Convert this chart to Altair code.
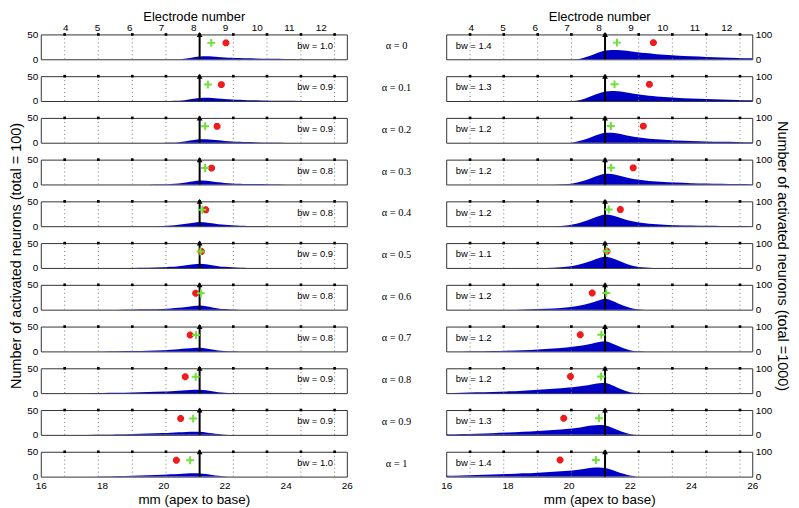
import altair as alt
import pandas as pd

# ---------------- data ----------------
MM_GRID = [16.0, 16.5, 17.0, 17.5, 18.0, 18.5, 19.0, 19.5, 20.0, 20.25, 20.5, 20.75,
           21.0, 21.2, 21.4, 21.6, 21.8, 22.0, 22.25, 22.5, 22.75, 23.0, 23.5, 24.0,
           24.5, 25.0, 25.5, 26.0]

ALPHA = ["0", "0.1", "0.2", "0.3", "0.4", "0.5", "0.6", "0.7", "0.8", "0.9", "1"]

LEFT_BW = ["1.0", "0.9", "0.9", "0.8", "0.8", "0.9", "0.8", "0.8", "0.9", "0.9", "1.0"]
RIGHT_BW = ["1.4", "1.3", "1.2", "1.2", "1.2", "1.1", "1.2", "1.2", "1.2", "1.3", "1.4"]

# activated neurons (total = 100), left column
LEFT_DENS = [
    [0, 0, 0, 0, 0, 0, 0, 0, 0, 0, 0, 1.5, 4, 5.5, 6, 5.5, 4.5, 3.8, 3, 2.4, 1.9, 1.5, 0.9, 0.5, 0.2, 0, 0, 0],
    [0, 0, 0, 0, 0, 0, 0, 0, 0, 0, 0.3, 2, 4.5, 6, 6.5, 6, 5, 4, 3, 2.3, 1.7, 1.3, 0.7, 0.3, 0.1, 0, 0, 0],
    [0, 0, 0, 0, 0, 0, 0, 0, 0, 0.3, 1.2, 3, 5.5, 7, 7, 6, 4.8, 3.7, 2.7, 2, 1.4, 1, 0.5, 0.2, 0, 0, 0, 0],
    [0, 0, 0, 0, 0, 0, 0, 0, 0.3, 0.8, 2, 4, 6.5, 8, 7.5, 6, 4.5, 3.2, 2.2, 1.5, 1, 0.7, 0.3, 0, 0, 0, 0, 0],
    [0, 0, 0, 0, 0, 0, 0, 0, 0.6, 1.3, 2.7, 4.8, 7, 8.5, 7.5, 5.8, 4, 2.7, 1.7, 1, 0.6, 0.3, 0, 0, 0, 0, 0, 0],
    [0, 0, 0, 0, 0, 0, 0, 0.2, 1.2, 2.2, 3.6, 5.5, 7.5, 8.5, 7.5, 5.5, 3.6, 2.2, 1.2, 0.5, 0.1, 0, 0, 0, 0, 0, 0, 0],
    [0, 0, 0, 0, 0, 0, 0.2, 0.6, 1.6, 2.6, 3.8, 5.4, 7.2, 8.2, 6.8, 4.6, 2.6, 1.2, 0.3, 0, 0, 0, 0, 0, 0, 0, 0, 0],
    [0, 0, 0, 0, 0, 0.2, 0.6, 1.2, 2.4, 3.2, 4.2, 5.6, 7, 7.6, 6, 3.8, 2, 0.8, 0.1, 0, 0, 0, 0, 0, 0, 0, 0, 0],
    [0, 0, 0, 0, 0.3, 0.7, 1.3, 2.1, 3.2, 3.9, 4.8, 5.8, 6.8, 7, 5.6, 3.6, 1.9, 0.7, 0.1, 0, 0, 0, 0, 0, 0, 0, 0, 0],
    [0, 0, 0, 0.2, 0.6, 1.1, 1.8, 2.6, 3.6, 4.3, 5.1, 6.0, 6.5, 6.3, 5, 3.3, 1.8, 0.7, 0.1, 0, 0, 0, 0, 0, 0, 0, 0, 0],
    [0, 0, 0, 0, 0.5, 1.1, 1.8, 2.7, 3.8, 4.5, 5.3, 6.2, 6.6, 6.3, 5, 3.3, 1.8, 0.6, 0, 0, 0, 0, 0, 0, 0, 0, 0, 0],
]

# activated neurons (total = 1000), right column
RIGHT_DENS = [
    [0, 0, 0, 0, 0, 0, 0, 0, 0, 0.5, 6, 16, 28, 35, 37, 37, 35, 32, 28, 25, 22, 19, 15, 12, 9.5, 7.5, 5.5, 4],
    [0, 0, 0, 0, 0, 0, 0, 0, 0, 1, 8, 20, 31, 38, 40, 39, 36, 32, 27, 23, 20, 17, 13, 10, 8, 6, 4.5, 3.5],
    [0, 0, 0, 0, 0, 0, 0, 0, 0, 4, 12, 23, 34, 40, 40, 37, 32, 27, 22, 18, 15, 13, 9.5, 7, 5, 4, 3, 2],
    [0, 0, 0, 0, 0, 0, 0, 0, 2, 7, 15, 26, 37, 43, 42, 37, 31, 25, 20, 16, 13, 11, 7.5, 5, 3.5, 2.5, 1.5, 1],
    [0, 0, 0, 0, 0, 0, 0, 0, 4, 10, 19, 30, 41, 47, 44, 37, 29, 22, 16, 12, 9, 7, 4, 2.5, 1.5, 1, 0.5, 0],
    [0, 0, 0, 0, 0, 0, 0, 1, 6, 11, 19, 29, 40, 45, 40, 31, 21, 12, 5, 1.5, 0, 0, 0, 0, 0, 0, 0, 0],
    [0, 0, 0, 0, 0, 1, 2.5, 5, 10, 14, 20, 28, 38, 44, 37, 26, 16, 8, 2, 0, 0, 0, 0, 0, 0, 0, 0, 0],
    [0, 0, 0.5, 1.5, 3, 5, 8, 12, 17, 21, 25, 31, 38, 41, 33, 23, 13, 5, 0.5, 0, 0, 0, 0, 0, 0, 0, 0, 0],
    [1, 2, 3.5, 5, 7, 10, 14, 18, 23, 26, 30, 35, 40, 41, 33, 22, 12, 4, 0.5, 0, 0, 0, 0, 0, 0, 0, 0, 0],
    [2, 3.5, 5, 7, 9.5, 12.5, 16, 20, 25, 28, 33, 38, 40, 38, 30, 20, 11, 4, 0.5, 0, 0, 0, 0, 0, 0, 0, 0, 0],
    [3, 4.5, 6, 8, 10, 13, 16, 19.5, 24, 27, 31, 36, 37, 35, 28, 19, 11, 4, 0.5, 0, 0, 0, 0, 0, 0, 0, 0, 0],
]

LEFT_GREEN = [21.57, 21.46, 21.37, 21.37, 21.28, 21.22, 21.23, 21.07, 21.06, 20.98, 20.88]
LEFT_RED = [22.05, 21.90, 21.76, 21.58, 21.39, 21.25, 21.06, 20.88, 20.72, 20.57, 20.43]
RIGHT_GREEN = [21.58, 21.50, 21.38, 21.39, 21.31, 21.24, 21.23, 21.07, 21.06, 20.99, 20.89]
RIGHT_RED = [22.77, 22.64, 22.44, 22.11, 21.69, 21.25, 20.77, 20.38, 20.06, 19.84, 19.72]
LEFT_MARK_LEVEL = 33
RIGHT_MARK_LEVEL = 67

ELECTRODE_MM = [16.78, 17.88, 18.99, 20.09, 21.19, 22.29, 23.39, 24.50, 25.60]
ELECTRODE_LABEL_MM = [16.80, 17.84, 18.89, 19.93, 20.98, 22.02, 23.06, 24.11, 25.15]
ELECTRODE_NUMBERS = ["4", "5", "6", "7", "8", "9", "10", "11", "12"]
STIM_MM = 21.19
MM_TICKS = [16, 18, 20, 22, 24, 26]

LEFT_YMAX = 50
RIGHT_YMAX = 100

# ---------------- style ----------------
FONT = "Liberation Sans"
SERIF = "Liberation Serif"
BLUE = "#0000c4"
GREEN = "#6fe03c"
RED = "#ee1c1c"
PLUS = "M-1,0L1,0M0,-1L0,1"
STAR = "M-1,0L1,0M0,-1L0,1M-0.7,-0.7L0.7,0.7M-0.7,0.7L0.7,-0.7"
PW, PH = 308, 25

label_expr = "[{}][indexof([{}], datum.value)]".format(
    ",".join("'%s'" % s for s in ELECTRODE_NUMBERS),
    ",".join(str(v) for v in ELECTRODE_LABEL_MM))


def panel(side, i):
    left = side == "L"
    ymax = LEFT_YMAX if left else RIGHT_YMAX
    dens = LEFT_DENS[i] if left else RIGHT_DENS[i]
    green = LEFT_GREEN[i] if left else RIGHT_GREEN[i]
    red = LEFT_RED[i] if left else RIGHT_RED[i]
    level = LEFT_MARK_LEVEL if left else RIGHT_MARK_LEVEL
    bw = LEFT_BW[i] if left else RIGHT_BW[i]

    if i == 0:
        xaxis = alt.Axis(orient="top", values=ELECTRODE_LABEL_MM, labelExpr=label_expr,
                         title="Electrode number", labelPadding=1.5, titlePadding=0,
                         titleFontSize=13, labelFlush=False)
    elif i == 10:
        xaxis = alt.Axis(orient="bottom", values=MM_TICKS, format="d",
                         title="mm (apex to base)", labelPadding=4, titlePadding=2,
                         labelFlush=False)
    else:
        xaxis = None

    if left:
        ytitle = "Number of activated neurons (total = 100)"
    else:
        ytitle = "Number of activated neurons (total =1000)"
    yaxis_kw = dict(orient="left" if left else "right", values=[0, ymax],
                    labelPadding=3, titlePadding=3, labelFlush=False, titleFontSize=14.5)
    if i == 5:
        yaxis = alt.Axis(title=ytitle, **yaxis_kw)
    else:
        yaxis = alt.Axis(title=None, **yaxis_kw)

    xs = alt.Scale(domain=[16, 26], nice=False, zero=False)
    ys = alt.Scale(domain=[0, ymax], nice=False)

    def X():
        return alt.X("mm:Q", scale=xs, axis=xaxis)

    def Y(f="v"):
        return alt.Y(f + ":Q", scale=ys, axis=yaxis)

    area_df = pd.DataFrame({"mm": MM_GRID, "v": dens})
    area = alt.Chart(area_df).mark_area(color=BLUE, interpolate="monotone", opacity=1).encode(
        x=X(), y=Y())

    elec_df = pd.DataFrame({"mm": ELECTRODE_MM, "v": [0] * len(ELECTRODE_MM),
                            "v2": [ymax] * len(ELECTRODE_MM)})
    dotted = alt.Chart(elec_df).mark_rule(color="#777777", strokeWidth=1,
                                          strokeDash=[1, 3]).encode(
        x=X(), y=Y(), y2="v2:Q")
    dots = alt.Chart(elec_df).mark_square(size=7, color="black", opacity=1).encode(
        x=X(), y=Y("v2"))

    stim_df = pd.DataFrame({"mm": [STIM_MM], "v": [0], "v2": [ymax]})
    arrow = alt.Chart(stim_df).mark_rule(color="black", strokeWidth=2).encode(
        x=X(), y=Y(), y2="v2:Q")
    head = alt.Chart(stim_df).mark_point(shape="triangle-up", filled=True, size=34,
                                         color="black", opacity=1).encode(
        x=X(), y=Y("v2"))

    red_df = pd.DataFrame({"mm": [red], "v": [level]})
    redm = alt.Chart(red_df).mark_point(shape=STAR, filled=False, size=48, strokeWidth=2.6,
                                        color=RED, opacity=1).encode(x=X(), y=Y())
    green_df = pd.DataFrame({"mm": [green], "v": [level]})
    greenm = alt.Chart(green_df).mark_point(shape=PLUS, filled=False, size=64, strokeWidth=2,
                                            color=GREEN, opacity=1).encode(x=X(), y=Y())

    bw_df = pd.DataFrame({"mm": [25.55 if left else 16.31], "v": [ymax * 0.55],
                          "t": ["bw = " + bw]})
    bwt = alt.Chart(bw_df).mark_text(align="right" if left else "left", baseline="middle",
                                     font=FONT, fontSize=9.5, color="black").encode(
        x=X(), y=Y(), text="t:N")

    return alt.layer(area, dotted, arrow, head, dots, redm, greenm, bwt).properties(
        width=PW, height=PH)


def alpha_cell(i):
    df = pd.DataFrame({"t": ["\u03b1 = " + ALPHA[i]]})
    return alt.Chart(df).mark_text(font=SERIF, fontSize=10.5, color="black",
                                   baseline="middle", align="center").encode(
        x=alt.value(30), y=alt.value(12), text="t:N"
    ).properties(width=60, height=PH, view=alt.ViewBackground(stroke=None))


cells = []
for i in range(11):
    cells += [panel("L", i), alpha_cell(i), panel("R", i)]

chart = alt.concat(*cells, columns=3, spacing={"row": 17, "column": 20},
                   bounds="flush").properties(
    padding=0
).configure_view(
    stroke="#333333", strokeWidth=1
).configure_axis(
    labelFont=FONT, labelFontSize=10, labelColor="black",
    titleFont=FONT, titleFontSize=13.5, titleFontWeight="normal", titleColor="black",
    grid=False, domain=False, ticks=False,
)

chart.save("out.html", embed_options={"renderer": "svg", "actions": False})
